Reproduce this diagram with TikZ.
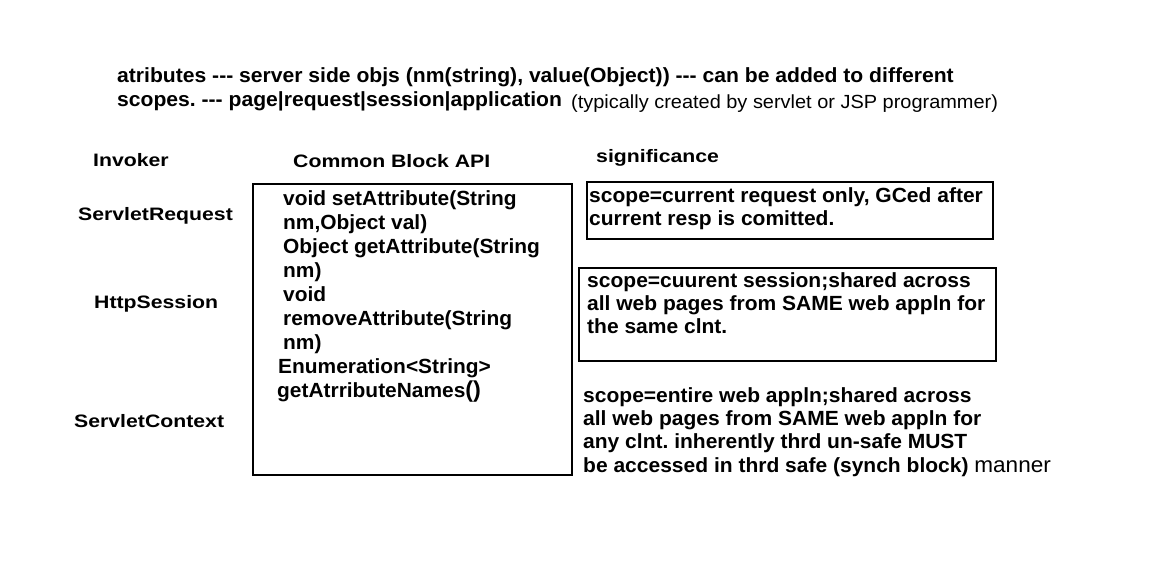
\documentclass[tikz,border=0pt]{standalone}
\usepackage{fontspec}
\setmainfont{Liberation Sans}
\newfontfamily\lblfont[FakeStretch=1.18]{Liberation Sans}
\newfontfamily\boxfont[FakeStretch=1.02]{Liberation Sans}
\newfontfamily\sidefont[FakeStretch=1.025]{Liberation Sans}
\newfontfamily\titlefont[FakeStretch=1.03]{Liberation Sans}
\newfontfamily\notefont[FakeStretch=1.05]{Liberation Sans}
\frenchspacing
\begin{document}
\begin{tikzpicture}[x=1pt,y=-1pt,
  lbl/.style={anchor=base west,inner sep=0pt,font=\lblfont\bfseries\fontsize{18}{22}\selectfont\frenchspacing},
  boxtxt/.style={anchor=base west,inner sep=0pt,font=\boxfont\bfseries\fontsize{20.5}{24}\selectfont\frenchspacing},
  sidetxt/.style={anchor=base west,inner sep=0pt,font=\sidefont\bfseries\fontsize{20.5}{24}\selectfont\frenchspacing},
  titletxt/.style={anchor=base west,inner sep=0pt,font=\titlefont\bfseries\fontsize{20.5}{24}\selectfont\frenchspacing},
  notetxt/.style={anchor=base west,inner sep=0pt,font=\notefont\fontsize{19}{24}\selectfont\frenchspacing},
  frame/.style={draw=black,line width=1.5pt}]
\useasboundingbox[fill=white] (0,0) rectangle (1156,560);
% title
\node[titletxt] (t1) at (117,82) {atributes --- server side objs (nm(string), value(Object)) --- can be added to different};
\node[titletxt] (t2) at (117,106) {scopes. --- page|request|session|application};
\node[notetxt] (t3) at (571,108) {(typically created by servlet or JSP programmer)};
% headers
\node[lbl] (hinv) at (93,166) {Invoker};
\node[lbl] (hapi) at (293,167) {Common Block API};
\node[lbl] (hsig) at (596,162) {significance};
% invokers
\node[lbl] (req) at (78,220) {ServletRequest};
\node[lbl] (ses) at (94,308) {HttpSession};
\node[lbl] (ctx) at (74,427) {ServletContext};
% API box
\draw[frame] (253,184) rectangle (572,475);
\node[boxtxt] (a1) at (283,205) {void setAttribute(String};
\node[boxtxt] (a2) at (283,229) {nm,Object val)};
\node[boxtxt] (a3) at (283,253) {Object getAttribute(String};
\node[boxtxt] (a4) at (283,277) {nm)};
\node[boxtxt] (a5) at (283,301) {void};
\node[boxtxt] (a6) at (283,325) {removeAttribute(String};
\node[boxtxt] (a7) at (283,349) {nm)};
\node[boxtxt] (a8) at (278,373) {Enumeration<String>};
\node[boxtxt] (a9) at (277,397) {getAtrributeNames{\fontsize{23}{24}\selectfont()}};
% significance boxes
\draw[frame] (587,182) rectangle (993,239);
\node[sidetxt] (s1) at (589,202) {scope=current request only, GCed after};
\node[sidetxt] (s2) at (589,225) {current resp is comitted.};
\draw[frame] (579,268) rectangle (996,361);
\node[sidetxt] (s3) at (587,287) {scope=cuurent session;shared across};
\node[sidetxt] (s4) at (587,310) {all web pages from SAME web appln for};
\node[sidetxt] (s5) at (587,333) {the same clnt.};
\node[sidetxt] (s6) at (583,402) {scope=entire web appln;shared across};
\node[sidetxt] (s7) at (583,425) {all web pages from SAME web appln for};
\node[sidetxt] (s8) at (583,448) {any clnt. inherently thrd un-safe MUST};
\node[sidetxt] (s9) at (583,472) {be accessed in thrd safe (synch block) {\mdseries\fontsize{22}{24}\selectfont manner}};
\end{tikzpicture}
\end{document}
